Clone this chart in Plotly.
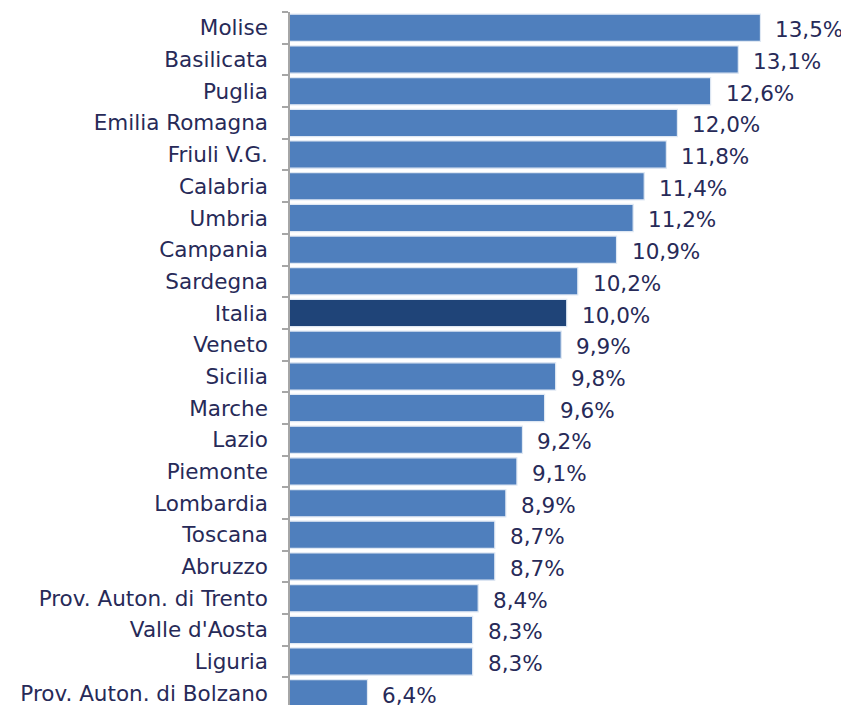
import plotly.graph_objects as go

regions = ["Molise", "Basilicata", "Puglia", "Emilia Romagna", "Friuli V.G.", "Calabria",
           "Umbria", "Campania", "Sardegna", "Italia", "Veneto", "Sicilia", "Marche",
           "Lazio", "Piemonte", "Lombardia", "Toscana", "Abruzzo",
           "Prov. Auton. di Trento", "Valle d'Aosta", "Liguria", "Prov. Auton. di Bolzano"]
values = [13.5, 13.1, 12.6, 12.0, 11.8, 11.4, 11.2, 10.9, 10.2, 10.0, 9.9, 9.8, 9.6,
          9.2, 9.1, 8.9, 8.7, 8.7, 8.4, 8.3, 8.3, 6.4]
labels = [f"{v:.1f}%".replace(".", ",") for v in values]

BAR = "#4f7fbd"
DARK = "#1f4478"
TXT = "#272a58"
colors = [DARK if r == "Italia" else BAR for r in regions]

fig = go.Figure(go.Bar(
    x=values, y=regions, orientation="h",
    base=0,
    marker=dict(color=colors, line=dict(color="#dfe8f3", width=1.2)),
    hoverinfo="skip",
))

for r, v, t in zip(regions, values, labels):
    fig.add_annotation(x=v, y=r, text=t, showarrow=False, xanchor="left",
                       xshift=13, yshift=-2, font=dict(family="DejaVu Sans", size=21.5, color=TXT))

fig.update_layout(
    width=841, height=697,
    margin=dict(l=282, r=0, t=4, b=0),
    plot_bgcolor="white", paper_bgcolor="white",
    bargap=0.14,
    showlegend=False,
    font=dict(family="DejaVu Sans", size=21.5, color=TXT),
)
fig.update_xaxes(range=[5, 15.1], visible=False, showgrid=False, zeroline=False)
fig.update_yaxes(
    type="category", categoryorder="array", categoryarray=regions,
    range=[21.37, -0.5],
    showline=True, linecolor="#a6a6a6", linewidth=1.5,
    ticks="outside", ticklen=6, tickcolor="#a6a6a6", tickwidth=1.5,
    tickson="boundaries", ticklabelstandoff=16,
    showgrid=False, zeroline=False,
    tickfont=dict(family="DejaVu Sans", size=21.5, color=TXT),
)

fig.write_html("out.html")
